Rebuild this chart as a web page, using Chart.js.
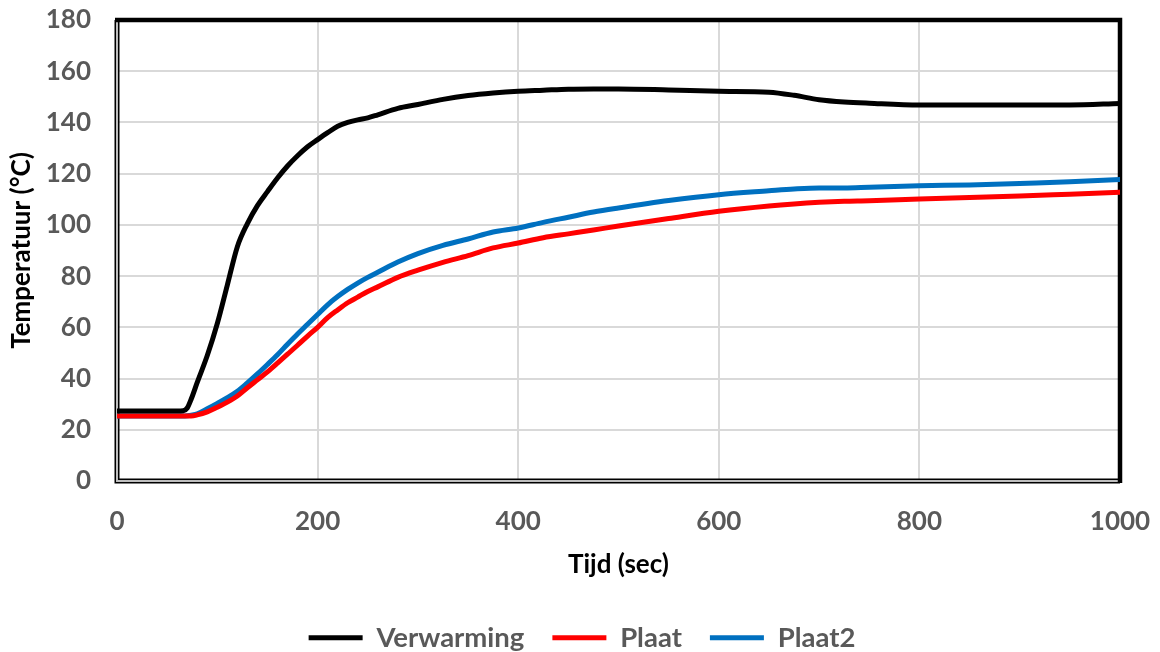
<!DOCTYPE html>
<html>
<head>
<meta charset="utf-8">
<script src="https://cdn.jsdelivr.net/npm/chart.js@4/dist/chart.umd.min.js"></script>
<style>
  html, body { margin: 0; padding: 0; background: #fff; }
  #wrap { width: 1160px; height: 652px; position: relative; }
</style>
</head>
<body>
<div id="wrap"><canvas id="c" width="1160" height="652"></canvas></div>
<script>
const seriesNames = ['Verwarming', 'Plaat', 'Plaat2'];
const timeSec = [0, 20, 40, 60, 66, 70, 74, 80, 90, 100, 110, 120, 130, 140, 150, 160, 170, 180, 190, 200, 210, 220, 230, 240, 250, 260, 280, 300, 325, 350, 375, 400, 425, 450, 475, 500, 550, 600, 650, 675, 700, 725, 750, 800, 850, 900, 950, 1000];
const verwarming = [27.3, 27.3, 27.3, 27.3, 27.4, 28.5, 32, 38.5, 49, 61.5, 76.5, 91.5, 100.5, 107.5, 113, 118.3, 123, 127, 130.5, 133.3, 136, 138.5, 140, 141, 141.8, 143, 145.5, 147, 149, 150.5, 151.5, 152.2, 152.6, 153, 153.1, 153.1, 152.7, 152.2, 151.8, 150.6, 148.9, 148, 147.5, 146.8, 146.8, 146.8, 146.8, 147.4];
const plaat = [25.4, 25.4, 25.4, 25.4, 25.4, 25.4, 25.4, 25.8, 27, 28.8, 30.8, 33.2, 36.4, 39.5, 42.6, 46, 49.5, 53, 56.6, 60, 63.8, 66.8, 69.6, 71.8, 74, 75.8, 79.5, 82.3, 85.4, 88, 91, 92.9, 95, 96.5, 98, 99.6, 102.5, 105.3, 107.4, 108.2, 108.8, 109.2, 109.4, 110.1, 110.7, 111.3, 112, 112.7];
const plaat2 = [25.4, 25.4, 25.4, 25.4, 25.4, 25.5, 25.7, 26.2, 28.2, 30.3, 32.5, 35, 38.3, 41.8, 45.5, 49.3, 53.4, 57.4, 61.2, 65, 68.8, 72, 74.8, 77.3, 79.5, 81.5, 85.5, 88.8, 92, 94.5, 97.2, 98.8, 101, 103, 105, 106.6, 109.5, 111.8, 113.3, 114, 114.4, 114.4, 114.7, 115.3, 115.6, 116.2, 116.8, 117.7];
const xTickLabels = ['0', '200', '400', '600', '800', '1000'];
const yTickLabels = ['0', '20', '40', '60', '80', '100', '120', '140', '160', '180'];
const xTitle = 'Tijd (sec)';
const yTitle = 'Temperatuur (°C)';
const colors = ['#000000', '#FF0000', '#0070C0'];

const FONT = 'Lato';
const FS = 26;
const toPts = (vals) => timeSec.map((t, i) => ({ x: t, y: vals[i] }));

const frame = {
  id: 'frame',
  afterInit(chart) {
    const lg = chart.legend;
    if (lg) {
      const origFit = lg.fit.bind(lg);
      lg.fit = function () { origFit(); this.height = 56; };
      const origDraw = lg.draw.bind(lg);
      lg.draw = function () { const c = this.ctx; c.save(); c.translate(22, 0); origDraw(); c.restore(); };
    }
  },
  beforeDatasetsDraw(chart) {
    const { ctx, chartArea: a } = chart;
    ctx.save();
    ctx.lineCap = 'butt';
    ctx.strokeStyle = '#000';
    ctx.lineWidth = 5;
    ctx.beginPath();
    ctx.moveTo(a.left, a.top); ctx.lineTo(a.left, a.bottom); ctx.lineTo(a.right, a.bottom);
    ctx.stroke();
    ctx.strokeStyle = '#bfbfbf';
    ctx.lineWidth = 2;
    ctx.beginPath();
    ctx.moveTo(a.left, a.top + 2); ctx.lineTo(a.left, a.bottom); ctx.lineTo(a.right - 2, a.bottom);
    ctx.stroke();
    ctx.strokeStyle = '#000';
    ctx.lineWidth = 4.5;
    ctx.beginPath();
    ctx.moveTo(a.left - 2, a.top); ctx.lineTo(a.right, a.top); ctx.lineTo(a.right, a.bottom + 2);
    ctx.stroke();
    ctx.restore();
  }
};

new Chart(document.getElementById('c'), {
  type: 'line',
  data: {
    datasets: [
      { label: seriesNames[0], data: toPts(verwarming), borderColor: colors[0], backgroundColor: colors[0] },
      { label: seriesNames[1], data: toPts(plaat), borderColor: colors[1], backgroundColor: colors[1] },
      { label: seriesNames[2], data: toPts(plaat2), borderColor: colors[2], backgroundColor: colors[2] }
    ].map(d => Object.assign(d, { borderWidth: 5, pointRadius: 0, cubicInterpolationMode: 'monotone', borderCapStyle: 'round', borderJoinStyle: 'round', fill: false }))
  },
  options: {
    responsive: false,
    animation: false,
    layout: { padding: { left: 0, right: 40, top: 20, bottom: 0 } },
    plugins: {
      tooltip: { enabled: false },
      legend: {
        position: 'bottom',
        labels: {
          usePointStyle: true,
          pointStyle: 'line',
          pointStyleWidth: 54,
          padding: 28,
          color: '#595959',
          font: { family: FONT, size: 27.5, weight: 'bold' }
        }
      }
    },
    scales: {
      x: {
        type: 'linear',
        min: 0, max: 1000,
        afterFit(s) { s.height = 115; s.paddingLeft = 0; s.paddingRight = 0; },
        afterBuildTicks(s) { s.ticks = xTickLabels.map(v => ({ value: Number(v) })); },
        ticks: { padding: 25, color: '#595959', font: { family: FONT, size: FS, weight: 'bold' }, maxRotation: 0, autoSkip: false,
                 callback: (v) => String(v) },
        grid: { color: '#d9d9d9', lineWidth: 2, drawTicks: false },
        border: { display: false },
        title: { display: true, text: xTitle, color: '#000', padding: { top: 0, bottom: 16 }, font: { family: FONT, size: FS, weight: 'bold' } }
      },
      y: {
        min: 0, max: 180,
        afterFit(s) { s.width = 117; s.paddingTop = 0; s.paddingBottom = 0; },
        afterBuildTicks(s) { s.ticks = yTickLabels.map(v => ({ value: Number(v) })); },
        ticks: { padding: 26, color: '#595959', font: { family: FONT, size: FS, weight: 'bold' }, autoSkip: false,
                 callback: (v) => String(v) },
        grid: { color: '#d9d9d9', lineWidth: 2, drawTicks: false },
        border: { display: false },
        title: { display: true, text: yTitle, color: '#000', padding: { top: 6, bottom: 0 }, font: { family: FONT, size: FS, weight: 'bold' } }
      }
    }
  },
  plugins: [frame]
});
</script>
</body>
</html>
